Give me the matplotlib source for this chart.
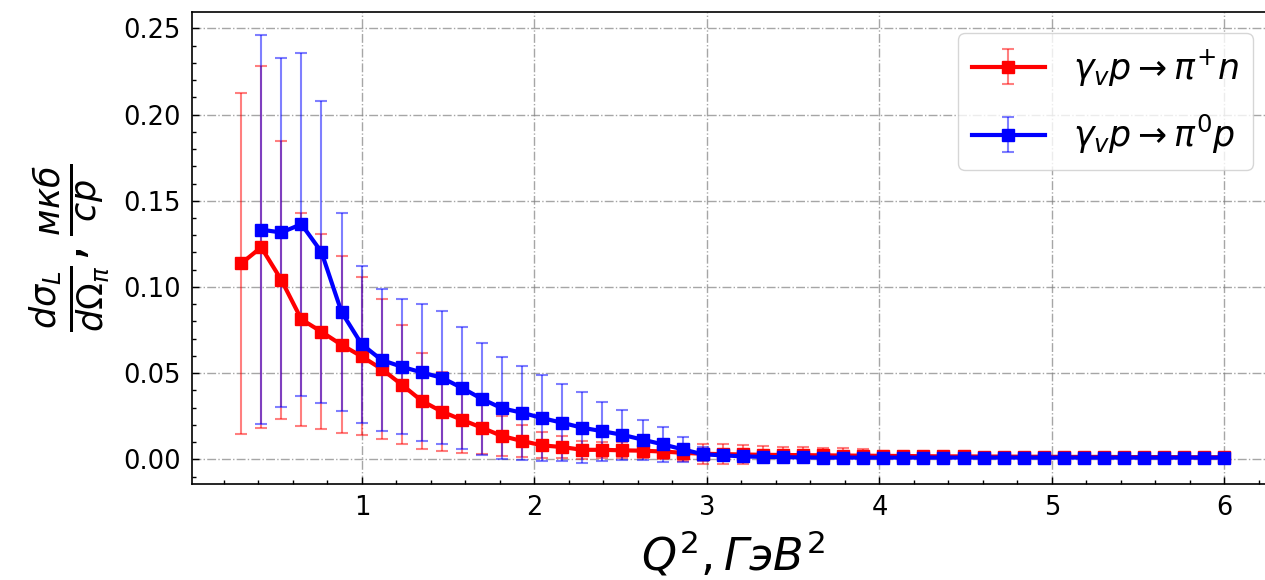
# -*- coding: utf-8 -*-

import numpy as np
import matplotlib.pyplot as plt
from matplotlib.ticker import MultipleLocator

# Q^2 grid, GeV^2
q2 = [0.300, 0.416, 0.533, 0.649, 0.765, 0.882, 0.998, 1.114, 1.231, 1.347,
      1.463, 1.580, 1.696, 1.812, 1.929, 2.045, 2.161, 2.278, 2.394, 2.510,
      2.627, 2.743, 2.859, 2.976, 3.092, 3.208, 3.324, 3.441, 3.557, 3.673,
      3.790, 3.906, 4.022, 4.139, 4.255, 4.371, 4.488, 4.604, 4.720, 4.837,
      4.953, 5.069, 5.186, 5.302, 5.418, 5.535, 5.651, 5.767, 5.884, 6.000]

# gamma_v p -> pi+ n
sig_pip = [0.1136, 0.1230, 0.1040, 0.0812, 0.0740, 0.0664, 0.0597, 0.0524, 0.0433, 0.0339,
           0.0277, 0.0229, 0.0183, 0.0135, 0.0106, 0.0081, 0.0071, 0.0055, 0.0055, 0.0052,
           0.0050, 0.0045, 0.0038, 0.0032, 0.0030, 0.0028, 0.0026, 0.0025, 0.0024, 0.0023,
           0.0022, 0.0021, 0.0020, 0.0019, 0.0018, 0.0017, 0.0017, 0.0016, 0.0016, 0.0015,
           0.0015, 0.0014, 0.0014, 0.0014, 0.0013, 0.0013, 0.0013, 0.0012, 0.0012, 0.0012]
err_pip = [0.0990, 0.1050, 0.0805, 0.0618, 0.0567, 0.0513, 0.0458, 0.0405, 0.0345, 0.0277,
           0.0231, 0.0190, 0.0153, 0.0118, 0.0095, 0.0075, 0.0064, 0.0052, 0.0047, 0.0046,
           0.0045, 0.0046, 0.0050, 0.0058, 0.0060, 0.0055, 0.0050, 0.0048, 0.0046, 0.0044,
           0.0042, 0.0040, 0.0030, 0.0025, 0.0022, 0.0020, 0.0018, 0.0016, 0.0015, 0.0014,
           0.0013, 0.0012, 0.0011, 0.0010, 0.0010, 0.0009, 0.0009, 0.0008, 0.0008, 0.0008]

# gamma_v p -> pi0 p (starts from the second Q^2 point)
sig_pi0 = [0.1332, 0.1316, 0.1364, 0.1203, 0.0854, 0.0668, 0.0576, 0.0537, 0.0504,
           0.0473, 0.0414, 0.0350, 0.0296, 0.0270, 0.0239, 0.0212, 0.0183, 0.0163, 0.0142,
           0.0114, 0.0087, 0.0058, 0.0029, 0.0023, 0.0017, 0.0014, 0.0012, 0.0011, 0.0010,
           0.0010, 0.0010, 0.0010, 0.0010, 0.0010, 0.0010, 0.0010, 0.0010, 0.0010, 0.0010,
           0.0010, 0.0010, 0.0010, 0.0010, 0.0010, 0.0010, 0.0010, 0.0010, 0.0010, 0.0010]
err_pi0 = [0.1130, 0.1010, 0.0994, 0.0876, 0.0576, 0.0456, 0.0410, 0.0393, 0.0395,
           0.0385, 0.0356, 0.0327, 0.0296, 0.0272, 0.0250, 0.0222, 0.0205, 0.0172, 0.0145,
           0.0116, 0.0100, 0.0071, 0.0040, 0.0025, 0.0015, 0.0012, 0.0010, 0.0009, 0.0008,
           0.0008, 0.0007, 0.0007, 0.0007, 0.0006, 0.0006, 0.0006, 0.0006, 0.0005, 0.0005,
           0.0005, 0.0005, 0.0005, 0.0005, 0.0005, 0.0005, 0.0005, 0.0005, 0.0005, 0.0005]

fig = plt.figure(figsize=(12.65, 5.8), dpi=100)
ax = fig.add_axes([0.1518, 0.165, 0.855, 0.814])

ax.errorbar(q2, sig_pip, yerr=err_pip, fmt='-s', color='red', lw=3, ms=8,
            ecolor=(1, 0, 0, 0.5), elinewidth=1.5, capsize=4, capthick=1.5,
            label=r'$\gamma_v p \rightarrow \pi^{+} n$')
ax.errorbar(q2[1:], sig_pi0, yerr=err_pi0, fmt='-s', color='blue', lw=3, ms=8,
            ecolor=(0, 0, 1, 0.5), elinewidth=1.5, capsize=4, capthick=1.5,
            label=r'$\gamma_v p \rightarrow \pi^{0} p$')

ax.set_xlim(0.015, 6.285)
ax.set_ylim(-0.0145, 0.2594)
ax.xaxis.set_major_locator(MultipleLocator(1))
ax.xaxis.set_minor_locator(MultipleLocator(0.2))
ax.yaxis.set_major_locator(MultipleLocator(0.05))
ax.yaxis.set_minor_locator(MultipleLocator(0.01))
ax.tick_params(which='both', direction='in', labelsize=18.5, pad=8, width=1)
ax.tick_params(which='major', length=5)
ax.tick_params(which='minor', length=3)
for s in ax.spines.values():
    s.set_linewidth(1.2)

ax.grid(which='major', linestyle='-.', color='gray', lw=1, alpha=0.7)

ax.set_xlabel(r'$Q^2, ГэВ^2$', fontsize=32, labelpad=6)
ax.set_ylabel(r'$\frac{d\sigma_L}{d\Omega_\pi}, \frac{мкб}{ср}$', fontsize=36, labelpad=8)

ax.legend(loc='upper right', fontsize=25, handlelength=2.1, borderaxespad=0.6,
          labelspacing=0.7)

plt.savefig('out.png', dpi=100)
